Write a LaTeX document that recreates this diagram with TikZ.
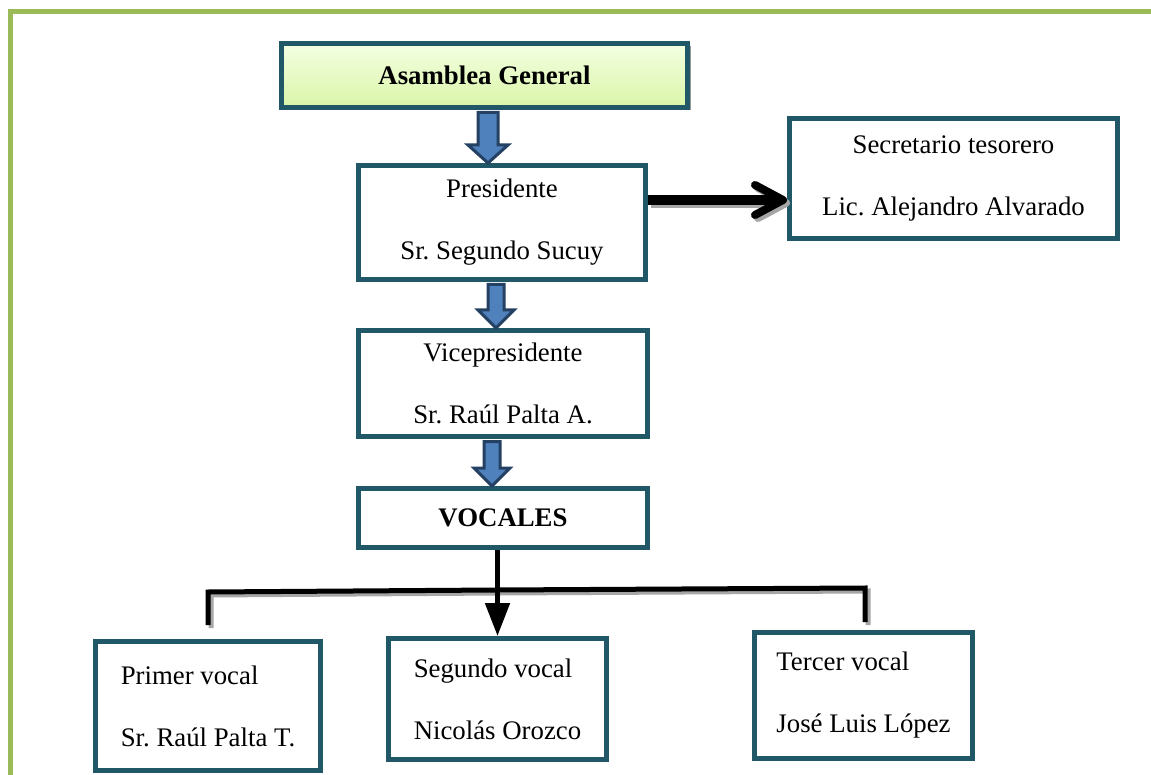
\documentclass[tikz,border=0pt]{standalone}
\usepackage{fontspec}
\setmainfont{Liberation Serif}
\usepackage{tikz}
\usetikzlibrary{arrows.meta, calc, shadows, positioning}

\definecolor{boxline}{RGB}{32,88,104}
\definecolor{arrowfill}{RGB}{79,129,189}
\definecolor{arrowline}{RGB}{36,64,98}
\definecolor{frameline}{RGB}{155,187,89}
\definecolor{topfill}{RGB}{244,255,226}
\definecolor{botfill}{RGB}{218,245,168}

\tikzset{
	cargo/.style={draw=boxline, line width=2.5pt, fill=white, align=center, inner sep=0pt,
		font=\fontsize{13.4}{31}\selectfont\frenchspacing},
	vocal/.style={cargo, align=left},
	conn/.style={draw=black, line width=2.5pt},
	sombra/.style={draw=black!35, transform canvas={shift={(1.5pt,-1.5pt)}}},
	barb/.style={-{Straight Barb[length=14pt,width=15pt,line width=4pt,round]}},
}

\providecommand{\BlockArrow}[4][4pt]{%
	% #1 half shaft, #2 x (px), #3 upper node, #4 lower node
	\path let \p1 = (#2,0), \p2 = (#3.south), \p3 = (#4.north) in
		coordinate (bt) at (\x1,\y2-1.25pt) coordinate (bb) at (\x1,\y3);
	\filldraw[fill=arrowfill, draw=arrowline, line width=1.5pt, line join=miter]
		($(bt)+(-#1,0)$) -- ($(bt)+(#1,0)$) -- ($(bb)+(#1,9pt)$) -- ($(bb)+(#1+5pt,9pt)$)
		-- (bb) -- ($(bb)+(-#1-5pt,9pt)$) -- ($(bb)+(-#1,9pt)$) -- cycle;
}

\begin{document}
\begin{tikzpicture}[x=0.5pt, y=-0.5pt]

	\useasboundingbox (0,0) rectangle (1151,775);
	\draw[frameline, line width=2.5pt] (10.5,775) -- (10.5,12) -- (1151,12);

	\node[cargo, minimum width=203pt, minimum height=32pt, top color=topfill, bottom color=botfill,
		drop shadow={shadow xshift=1.5pt, shadow yshift=-1.5pt, fill=black!40, opacity=1}]
		(asamblea) at (484.5,75.5) {\textbf{Asamblea General}};
	\node[cargo, minimum width=143.5pt, minimum height=57pt] (presidente) at (502,222.5)
		{Presidente\\Sr. Segundo Sucuy};
	\node[cargo, minimum width=164pt, minimum height=60pt] (secretario) at (953.5,178.5)
		{Secretario tesorero\\Lic. Alejandro Alvarado};
	\node[cargo, minimum width=144.5pt, minimum height=53pt] (vice) at (503,383.5)
		{Vicepresidente\\Sr. Raúl Palta A.};
	\node[cargo, minimum width=144.5pt, minimum height=29.5pt] (vocales) at (503,518)
		{\textbf{VOCALES}};

	\node[vocal, minimum width=112.5pt, minimum height=64.5pt] (primer) at (208,706)
		{Primer vocal\\Sr. Raúl Palta T.};
	\node[vocal, minimum width=109pt, minimum height=60.5pt] (segundo) at (497.5,699)
		{Segundo vocal\\Nicolás Orozco};
	\node[vocal, minimum width=109pt, minimum height=63pt] (tercer) at (863.5,695.5)
		{Tercer vocal\\José Luis López};

	\BlockArrow[5pt]{488}{asamblea}{presidente}
	\BlockArrow{496}{presidente}{vice}
	\BlockArrow{492}{vice}{vocales}

	% presidente -> secretario
	\draw[conn, sombra, line width=5pt, barb]
		([yshift=11.25pt]presidente.east) -- ([yshift=-10.75pt]secretario.west);
	\draw[conn, line width=5pt, barb]
		([yshift=11.25pt]presidente.east) -- ([yshift=-10.75pt]secretario.west);

	% vocales
	\coordinate (izq) at (208,592);
	\coordinate (izqb) at (208,625);
	\coordinate (cruce) at (497,590);
	\coordinate (der) at (865,588);
	\coordinate (derb) at (865,622);
	\draw[conn, sombra] (izqb) -- (izq) -- (cruce) -- (der) -- (derb);
	\draw[conn] (izqb) -- (izq) -- (cruce) -- (der) -- (derb);
	\draw[conn, -{Triangle[length=16.5pt,width=12pt]}] (vocales.south -| segundo.north) -- (segundo.north);

\end{tikzpicture}
\end{document}
